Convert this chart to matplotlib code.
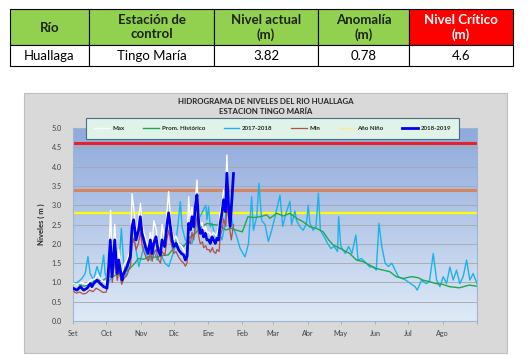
import numpy as np
import matplotlib.pyplot as plt
from matplotlib.patches import Rectangle

plt.rcParams['font.family'] = ['Lato', 'DejaVu Sans']

# tabla superior
cab = ["Río", "Estación de\ncontrol", "Nivel actual\n(m)", "Anomalía\n(m)", "Nivel Crítico\n(m)"]
fila = ["Huallaga", "Tingo María", "3.82", "0.78", "4.6"]

# umbrales
critico = 4.6
alerta = 3.4
nino = 2.8

# meses (dia del año hidrologico, desde 1 de setiembre)
mes_pos = [0, 30, 61, 91, 122, 153, 181, 212, 242, 273, 303, 334, 365]
mes_lab = ["Set", "Oct", "Nov", "Dic", "Ene", "Feb", "Mar", "Abr", "May", "Jun", "Jul", "Ago", ""]

# 2018-2019
d_1819 = [0, 3.6, 6.6, 9.6, 12.7, 15.7, 17, 18.7, 21.7, 24.7, 27.7, 30.7, 32.2, 33.7, 35.2, 37.7,
          39.8, 41.3, 44.3, 45.8, 48.8, 51.8, 53.3, 54.8, 56.9, 59.3, 60.8, 62.3, 63.9, 65.4, 67.8,
          69.9, 71.4, 72.9, 75, 76.8, 78.9, 80.4, 82.8, 85, 86.4, 88, 89.5, 91, 93, 95.5, 97.9, 100,
          101.5, 103, 104.5, 106, 107.5, 109, 110.5, 112, 113.6, 115, 116.6, 118, 119.6, 121, 122.6,
          124, 125.6, 127, 128.6, 130, 131.6, 133, 134.6, 136, 137.7, 139, 140.5, 142, 145]
v_1819 = [0.85, 0.80, 0.89, 0.80, 0.85, 0.97, 0.89, 0.97, 1.06, 0.97, 0.89, 0.85, 1.41, 2.10, 1.15, 2.10,
          1.23, 1.58, 1.06, 1.23, 1.41, 1.67, 2.44, 2.62, 2.10, 2.36, 2.70, 2.27, 2.10, 1.93, 1.75,
          2.10, 1.75, 2.01, 2.18, 1.84, 1.71, 2.10, 1.93, 2.53, 2.80, 2.44, 2.10, 1.93, 2.01, 1.84, 1.75, 1.71,
          1.58, 1.67, 2.53, 2.36, 2.70, 2.44, 2.96, 3.27, 2.53, 2.27, 2.36, 2.18, 2.27, 2.10, 2.10,
          2.01, 2.18, 2.10, 2.01, 2.14, 2.10, 2.53, 2.80, 3.14, 2.83, 3.83, 3.00, 2.45, 3.82]

# Max
d_max = [0, 4, 8, 12, 16, 20, 22, 26, 30, 32, 34, 35.5, 37.7, 39.8, 41.3, 44, 46, 49, 52, 53.3, 55, 57,
         59, 61, 62.5, 64, 66, 68, 70, 71.5, 73, 75, 77, 79, 80.5, 83, 85, 86.4, 88, 89.5, 91, 93, 95.5,
         98, 100, 101.5, 103, 104.5, 106, 107.5, 109, 110.5, 112, 113.6, 115, 116.6, 118, 119.6, 121,
         123, 125, 127, 129, 131, 133, 134.6, 136, 137.7, 139, 140.5, 142]
v_max = [0.97, 0.95, 1.00, 0.95, 1.05, 1.10, 1.20, 1.05, 0.98, 1.55, 2.87, 1.30, 2.50, 1.40, 1.85, 1.20,
         1.45, 1.60, 1.90, 3.30, 2.90, 2.30, 2.60, 3.05, 2.50, 2.30, 2.10, 1.95, 2.30, 1.95, 2.60, 2.40,
         2.00, 1.90, 2.50, 2.10, 2.90, 3.35, 2.70, 2.30, 2.10, 2.20, 2.00, 1.95, 1.85, 1.75, 1.85, 3.22,
         2.60, 2.95, 2.60, 3.10, 3.65, 2.80, 2.45, 2.55, 2.35, 2.45, 2.30, 2.30, 2.20, 2.30, 2.20, 2.35,
         2.80, 3.05, 3.40, 3.10, 4.30, 3.20, 2.60]

# Min
d_min = [0, 3, 6, 9, 12, 15, 18, 21, 24, 27, 30, 32, 34, 35.5, 37.7, 40, 41.5, 44, 46, 49, 52, 53.5, 55,
         57, 59, 61, 62.5, 64, 66, 68, 70, 71.5, 73, 75, 77, 79, 80.5, 83, 85, 86.5, 88, 90, 91, 93, 95.5,
         98, 100, 101.5, 103, 104.5, 106, 107.5, 109, 110.5, 112, 113.5, 115, 117, 118, 120, 121, 123,
         124, 126, 127, 129, 130, 132, 133, 135, 136, 138, 139, 141, 142, 143, 145]
v_min = [0.78, 0.72, 0.75, 0.70, 0.72, 0.80, 0.76, 0.85, 0.80, 0.74, 0.75, 1.05, 1.55, 1.00, 1.60, 1.05,
         1.30, 0.95, 1.10, 1.20, 1.45, 2.00, 2.15, 1.85, 2.00, 2.30, 1.95, 1.80, 1.65, 1.55, 1.80, 1.55,
         1.75, 1.85, 1.60, 1.50, 1.80, 1.70, 2.15, 2.35, 2.10, 1.85, 1.75, 1.80, 1.65, 1.55, 1.50, 1.42,
         1.50, 2.10, 2.00, 2.30, 2.10, 2.50, 2.70, 2.20, 2.00, 2.05, 1.90, 1.95, 1.85, 1.85, 1.78, 1.90,
         1.80, 1.75, 1.85, 1.80, 2.20, 2.40, 2.65, 2.45, 3.00, 2.60, 2.30, 2.10, 2.50]

# Prom. Historico
d_prom = [0, 5, 10, 15, 21, 27, 32, 36, 41, 45, 50, 53, 56, 59, 64, 69, 73, 78, 82, 86, 90, 95, 100, 106,
          110, 113, 117, 121, 126, 132, 138, 143, 148, 153, 158, 163, 169, 175, 178, 184, 190, 196, 202,
          208, 214, 220, 226, 231, 235, 240, 244, 250, 256, 262, 268, 274, 280, 286, 292, 298, 306, 312,
          316, 322, 328, 334, 340, 349, 358, 365]
v_prom = [0.97, 0.95, 0.90, 0.95, 1.06, 1.05, 1.15, 1.15, 1.23, 1.25, 1.32, 1.41, 1.50, 1.62, 1.60, 1.67,
          1.65, 1.67, 1.70, 1.71, 1.85, 2.02, 1.93, 2.18, 2.25, 2.36, 2.45, 2.53, 2.50, 2.48, 2.36, 2.40,
          2.35, 2.31, 2.70, 2.68, 2.70, 2.75, 2.66, 2.79, 2.72, 2.79, 2.66, 2.57, 2.44, 2.40, 2.31, 2.10,
          1.97, 1.90, 1.84, 1.75, 1.58, 1.54, 1.45, 1.36, 1.32, 1.28, 1.15, 1.10, 1.15, 1.12, 1.06, 1.02,
          0.97, 0.95, 0.89, 0.86, 0.93, 0.90]

# 2017-2018
d_1718 = [0, 4, 8, 11, 13.5, 15.5, 18.5, 21.7, 24.7, 27.7, 29, 32, 35, 38, 41, 43.7, 46, 48, 50, 53, 56,
          58, 59.5, 62.5, 64, 67, 70, 73, 76, 79, 83, 86.5, 89.5, 92.5, 95, 97, 98.5, 101.5, 104.5, 107.5,
          110.5, 113, 116.5, 120, 121, 122.5, 124, 125.5, 128.5, 131.5, 134.6, 137.5, 140, 141, 143, 145,
          148, 151, 155.4, 158.5, 161.4, 163, 166, 168, 170.5, 173.5, 176.5, 179.5, 182.5, 187, 189.5,
          192.5, 196, 197.5, 200.5, 202, 205, 208, 211, 212.5, 214, 217, 219.5, 221.7, 223.5, 227, 230,
          233, 236, 239, 240, 242, 246, 249, 252, 255.6, 257.5, 260.5, 265, 268, 271, 274, 276.4, 279,
          282, 285, 288, 291, 294, 297.5, 300.5, 305, 309, 311, 315, 319, 322, 325.5, 328.5, 331.5,
          334.5, 337.5, 340.5, 343.5, 346.5, 349.5, 352.5, 355.6, 358.5, 361.5, 365]
v_1718 = [0.97, 1.00, 1.10, 1.23, 1.67, 1.23, 1.06, 1.41, 1.15, 1.71, 1.23, 0.98, 1.15, 1.50, 1.20, 2.40,
          1.41, 1.15, 1.41, 2.10, 2.01, 1.67, 1.41, 1.75, 1.93, 1.67, 1.58, 1.84, 1.58, 1.75, 1.50, 1.41,
          1.67, 1.93, 2.53, 3.09, 2.44, 2.10, 2.01, 2.01, 2.36, 2.62, 2.80, 3.00, 2.62, 2.96, 2.44, 2.53,
          2.18, 2.36, 2.10, 2.53, 3.75, 3.00, 2.70, 2.40, 2.18, 1.88, 1.66, 2.00, 3.22, 2.35, 2.70, 3.57,
          2.60, 2.50, 2.06, 2.35, 2.70, 3.26, 2.45, 2.80, 3.10, 2.50, 2.85, 2.60, 2.44, 2.35, 2.53, 3.00,
          2.53, 2.35, 2.44, 3.31, 2.35, 2.18, 2.01, 1.88, 1.93, 1.80, 2.70, 1.93, 1.75, 1.93, 1.75, 2.23,
          1.58, 1.62, 1.50, 1.40, 1.40, 1.32, 2.53, 1.93, 1.50, 1.41, 1.50, 1.32, 1.15, 1.10, 1.06, 0.97,
          0.89, 0.80, 1.06, 0.97, 1.02, 1.75, 1.06, 0.89, 1.15, 0.97, 1.40, 1.06, 1.32, 0.97, 1.15, 1.58,
          1.06, 1.23, 0.97]

fig = plt.figure(figsize=(5.28, 3.56), dpi=100)

# capa de fondo en pixeles
bg = fig.add_axes([0, 0, 1, 1])
bg.set_xlim(0, 528)
bg.set_ylim(356, 0)
bg.axis('off')

# tabla
cols = [10, 89, 214, 318, 409, 513]
for i in range(5):
    fc = '#FF0000' if i == 4 else '#92D050'
    bg.add_patch(Rectangle((cols[i], 9), cols[i + 1] - cols[i], 36, fc=fc, ec='black', lw=0.8))
    bg.add_patch(Rectangle((cols[i], 45), cols[i + 1] - cols[i], 21, fc='white', ec='black', lw=0.8))
    xc = (cols[i] + cols[i + 1]) / 2
    bg.text(xc, 27.5, cab[i], ha='center', va='center', fontsize=9.5, fontweight='bold',
            color='white' if i == 4 else '#1c2414', linespacing=1.2)
    bg.text(xc, 56, fila[i], ha='center', va='center', fontsize=9.5, color='black')

# recuadro del grafico
bg.add_patch(Rectangle((24, 93), 483, 260, fc='#D9D9D9', ec='#BFBFBF', lw=0.8))
bg.text(266, 101, "HIDROGRAMA DE NIVELES DEL RIO HUALLAGA", ha='center', va='center',
        fontsize=5.7, fontweight='bold', color='#262626')
bg.text(266, 111, "ESTACION TINGO MARÍA", ha='center', va='center',
        fontsize=5.7, fontweight='bold', color='#262626')

ax = fig.add_axes([73 / 528, 1 - 321 / 356, 404 / 528, 193 / 356])

# fondo degradado
grad = np.linspace(0, 1, 256).reshape(-1, 1)
top = np.array([0x8E, 0xA9, 0xDB]) / 255
bot = np.array([0xDF, 0xEA, 0xF7]) / 255
img = bot + (top - bot) * grad[..., None]
ax.imshow(img, extent=[0, 365, 0, 5], origin='lower', aspect='auto', zorder=0)

for y in np.arange(0.5, 5.0, 0.5):
    ax.axhline(y, color='#A6A6A6', lw=0.6, zorder=1)

ax.axhline(critico, color='#E8202A', lw=2.2, zorder=2)
ax.axhline(alerta, color='#D9835F', lw=2.2, zorder=2)
ax.axhline(nino, color='#FFFF00', lw=1.6, zorder=2)

ax.plot(d_1718, v_1718, color='#1CB2EA', lw=1.0, zorder=3, label='2017-2018')
ax.plot(d_prom, v_prom, color='#1FA84F', lw=1.0, zorder=4, label='Prom. Histórico')
ax.plot(d_max, v_max, color='white', lw=1.0, zorder=4, label='Max')
ax.plot(d_min, v_min, color='#B0504A', lw=0.9, zorder=4, label='Min')
ax.plot([], [], color='#FFE699', lw=1.0, label='Año Niño')
ax.plot(d_1819, v_1819, color='#0000F0', lw=2.0, zorder=5, label='2018-2019')

ax.set_xlim(0, 365)
ax.set_ylim(0, 5)
ax.set_yticks(np.arange(0, 5.01, 0.5))
ax.set_yticklabels([f"{y:.1f}" for y in np.arange(0, 5.01, 0.5)])
ax.set_xticks(mes_pos)
ax.set_xticklabels(mes_lab)
ax.tick_params(axis='y', length=0, pad=8, labelsize=5.2, labelcolor='#404040')
ax.tick_params(axis='x', length=2.5, width=0.6, color='#8EA9C1', pad=4, labelsize=5.2,
               labelcolor='#404040')
for s in ax.spines.values():
    s.set_color('#9DB5D0')
    s.set_linewidth(0.8)
ax.set_ylabel("Niveles ( m )", fontsize=5.5, fontweight='bold', color='#262626', labelpad=5)

h, l = ax.get_legend_handles_labels()
orden = ['Max', 'Prom. Histórico', '2017-2018', 'Min', 'Año Niño', '2018-2019']
hs = [h[l.index(o)] for o in orden]
leg = fig.legend(hs, orden, ncol=6, loc='center', mode='expand',
                 bbox_to_anchor=(83 / 528, 1 - 138 / 356, 379 / 528, 19 / 356),
                 bbox_transform=fig.transFigure, prop={'size': 4.4, 'weight': 'bold'},
                 handlelength=2.6, handletextpad=0.4, borderpad=1.3, fancybox=False,
                 framealpha=1, facecolor='#DFF3E9', edgecolor='#4D6B7F')
leg.get_frame().set_linewidth(0.8)
for t in leg.get_texts():
    t.set_color('#262626')

fig.savefig('out.png', dpi=100)
